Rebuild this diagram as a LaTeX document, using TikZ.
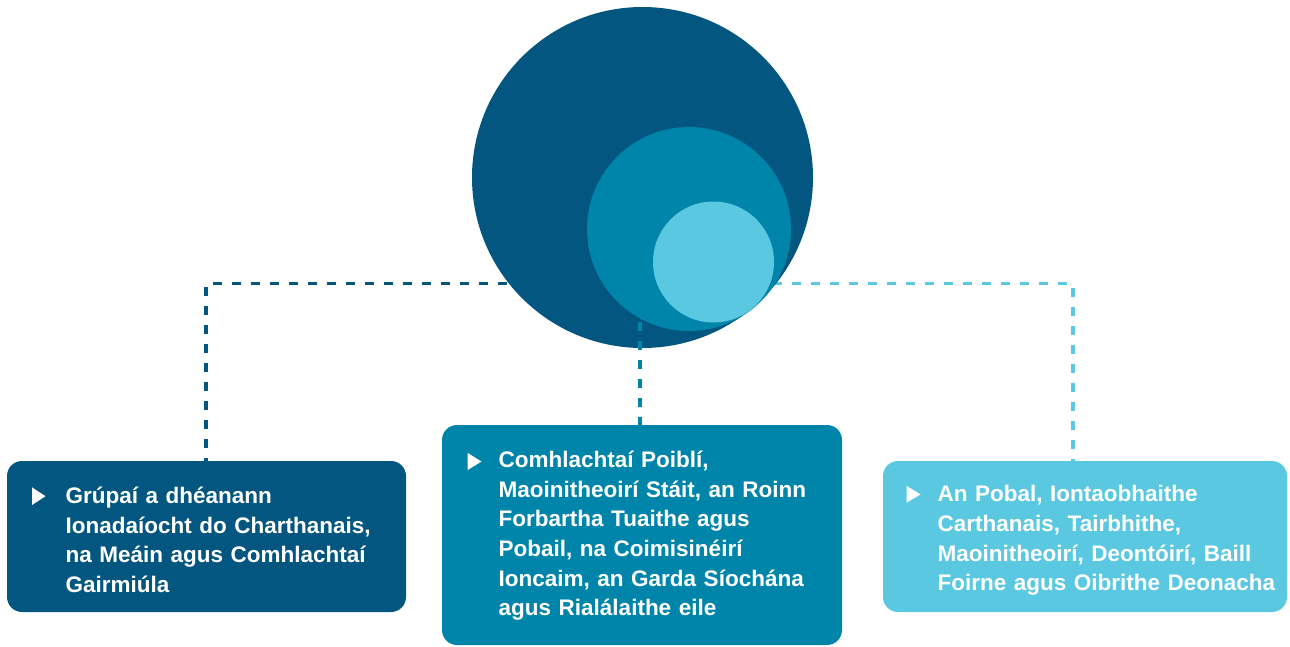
\documentclass[tikz,border=0pt]{standalone}
\usepackage{fontspec}
\setmainfont{Liberation Sans}
\usepackage{tikz}
\usetikzlibrary{positioning}
\definecolor{dkblue}{HTML}{03567F}
\definecolor{mdblue}{HTML}{0085AA}
\definecolor{ltblue}{HTML}{5BC8E1}
\tikzstyle{disc}=[inner sep=0pt, draw=none, shape=circle]
\tikzstyle{card}=[inner sep=0pt, draw=none, shape=rectangle, rounded corners=15pt]
\tikzstyle{txt}=[inner sep=0pt, text=white, text width=350pt, align=left, anchor=base west, font=\fontsize{22.5}{29.7}\selectfont\bfseries]
\tikzstyle{link}=[line width=3.5pt, dash pattern=on 9pt off 10pt]

\begin{document}
\begin{tikzpicture}[x=1pt, y=-1pt]
\useasboundingbox (0,0) rectangle (1290,646);
% the junction points of the dashed links
\coordinate (J) at (640,283.5);
\coordinate (RJ) at (1073,461);
% the three boxes
\node[card, fill=dkblue, minimum width=399pt, minimum height=151pt] (L) at (206.5,536.5) {};
\node[card, fill=mdblue, minimum width=400pt, minimum height=220pt] (M) at (642,535) {};
\node[card, fill=ltblue, minimum width=404pt, minimum height=151pt] (R) at (1085,536.5) {};
% the outer links, behind the circles
\draw[link, dkblue] (J) -| (L.north -| 206,0);
\draw[link, ltblue] (J) -| (RJ);
% the big circle
\node[disc, fill=dkblue, minimum size=341pt] (C0) at (642.5,177.5) {};
% the middle link
\draw[link, mdblue] (J) -- (J |- M.north);
% the two inner circles
\node[disc, fill=mdblue, minimum size=204pt] (C1) at (689,229) {};
\node[disc, fill=ltblue, minimum size=121pt] (C2) at (713.5,262) {};
% the bullets
\fill[white] (32,487.3) -- (45.5,496.2) -- (32,505) -- cycle;
\fill[white] (467.7,453) -- (481.5,461.5) -- (467.7,470) -- cycle;
\fill[white] (906.7,486) -- (920.5,494.4) -- (906.7,502.7) -- cycle;
% the texts
\node[txt] (T0) at (65.5,503.3) {Grúpaí a dhéanann\\Ionadaíocht do Charthanais,\\na Meáin agus Comhlachtaí\\Gairmiúla};
\node[txt] (T1) at (498.5,467.3) {Comhlachtaí Poiblí,\\Maoinitheoirí Stáit, an Roinn\\Forbartha Tuaithe agus\\Pobail, na Coimisinéirí\\Ioncaim, an Garda Síochána\\agus Rialálaithe eile};
\node[txt] (T2) at (937.5,501.7) {An Pobal, Iontaobhaithe\\Carthanais, Tairbhithe,\\Maoinitheoirí, Deontóirí, Baill\\Foirne agus Oibrithe Deonacha};
\end{tikzpicture}
\end{document}
